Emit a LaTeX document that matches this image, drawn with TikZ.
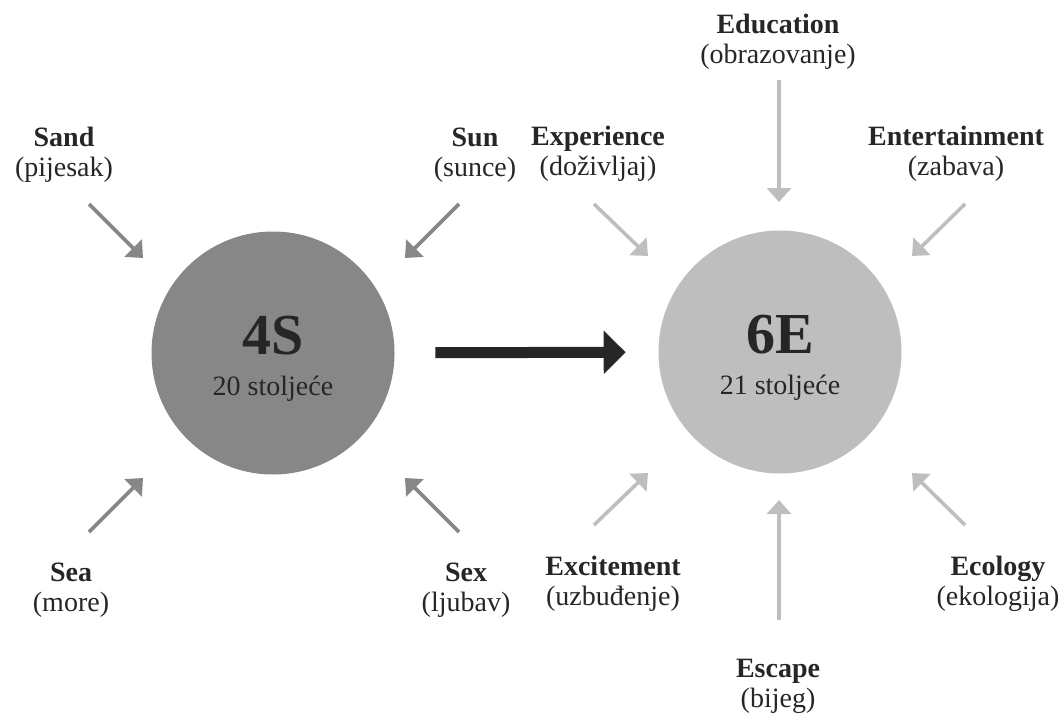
\documentclass[tikz,border=0pt]{standalone}
\usepackage{fontspec}
\setmainfont{Liberation Serif}
\usetikzlibrary{arrows.meta}
\definecolor{darkgrey}{HTML}{878787}
\definecolor{lightgrey}{HTML}{BEBEBE}
\definecolor{ink}{HTML}{262626}

\begin{document}
\begin{tikzpicture}[->,>={Triangle[length=14pt,width=24pt]},x=1pt,y=-1pt,line width=3.6pt]
\tikzstyle{hub}=[circle,minimum size=243pt,inner sep=0pt,align=center,text=ink,font=\fontsize{28}{41}\selectfont]
\tikzstyle{word}=[align=center,text=ink,font=\fontsize{28}{30}\selectfont]
\useasboundingbox (0,0) rectangle (1059,714);
\node[hub,fill=darkgrey] (S4) at (273,353) {\rule{0pt}{50pt}{\fontsize{58}{58}\selectfont\bfseries 4S}\\20 stoljeće};
\node[hub,fill=lightgrey] (E6) at (780,352) {\rule{0pt}{50pt}{\fontsize{58}{58}\selectfont\bfseries 6E}\\21 stoljeće};
\node[word] (Sand) at (64,155) {\textbf{Sand}\\(pijesak)};
\node[word] (Sun) at (475,155) {\textbf{Sun}\\(sunce)};
\node[word] (Sea) at (71,590) {\textbf{Sea}\\(more)};
\node[word] (Sex) at (466,590) {\textbf{Sex}\\(ljubav)};
\node[word] (Edu) at (778,42) {\textbf{Education}\\(obrazovanje)};
\node[word] (Exp) at (598,154) {\textbf{Experience}\\(doživljaj)};
\node[word] (Ent) at (956,154) {\textbf{Entertainment}\\(zabava)};
\node[word] (Exc) at (613,584) {\textbf{Excitement}\\(uzbuđenje)};
\node[word] (Eco) at (998,584) {\textbf{Ecology}\\(ekologija)};
\node[word] (Esc) at (778,686) {\textbf{Escape}\\(bijeg)};
\coordinate (SandA) at (89,204); \coordinate (SandB) at (143,258);
\coordinate (SunA) at (459,204); \coordinate (SunB) at (405,258);
\coordinate (SeaA) at (89,532); \coordinate (SeaB) at (143,478);
\coordinate (SexA) at (459,532); \coordinate (SexB) at (405,478);
\coordinate (EduA) at (779,80); \coordinate (EduB) at (779,202);
\coordinate (ExpA) at (594,204); \coordinate (ExpB) at (648,256);
\coordinate (EntA) at (965,204); \coordinate (EntB) at (912,256);
\coordinate (ExcA) at (594,525); \coordinate (ExcB) at (648,473);
\coordinate (EcoA) at (965,525); \coordinate (EcoB) at (912,473);
\coordinate (EscA) at (779,620); \coordinate (EscB) at (779,500);
\path[darkgrey] (SandA) edge (SandB)
         (SunA) edge (SunB)
         (SeaA) edge (SeaB)
         (SexA) edge (SexB);
\path[lightgrey] (EduA) edge (EduB)
         (ExpA) edge (ExpB)
         (EntA) edge (EntB)
         (ExcA) edge (ExcB)
         (EcoA) edge (EcoB)
         (EscA) edge (EscB);
\path (S4) edge[ink,line width=11pt,>={Triangle[length=22pt,width=42pt]},shorten <=39pt,shorten >=31pt] (E6);
\end{tikzpicture}
\end{document}
